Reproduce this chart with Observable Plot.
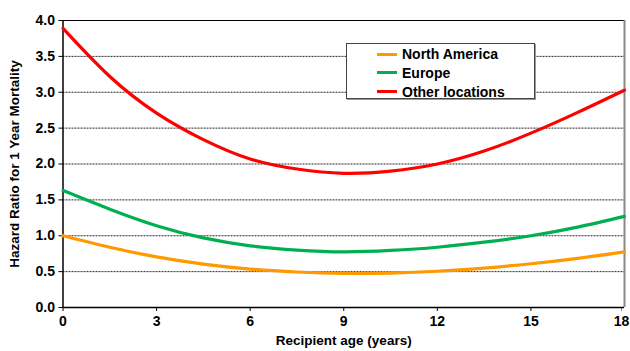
<!DOCTYPE html>
<html>
<head>
<meta charset="utf-8">
<script src="https://cdn.jsdelivr.net/npm/d3@7"></script>
<script src="https://cdn.jsdelivr.net/npm/@observablehq/plot@0.6"></script>
<style>
  html, body { margin: 0; padding: 0; background: #fff; }
  #wrap { position: relative; width: 630px; height: 351px; overflow: hidden; font-family: "Liberation Sans", Arial, sans-serif; }
  #legend { position: absolute; left: 346px; top: 43px; width: 187px; height: 54px; border: 1px solid #444; box-shadow: 1px 1px 0 #999; background: #fff; }
  .item { position: absolute; left: 30px; height: 18px; display: flex; align-items: center; font-weight: bold; font-size: 14px; color: #000; }
  .sw { width: 20px; height: 3px; margin-right: 5px; }
</style>
</head>
<body>
<div id="wrap"></div>
<script>
const ages = [0, 1.5, 3, 4.5, 6, 7.5, 9, 10.5, 12, 13.5, 15, 16.5, 18];
const northAmerica = [1.0, 0.84, 0.705, 0.605, 0.535, 0.495, 0.475, 0.48, 0.505, 0.55, 0.61, 0.685, 0.775];
const europe = [1.63, 1.37, 1.14, 0.97, 0.86, 0.80, 0.775, 0.795, 0.84, 0.91, 1.0, 1.12, 1.27];
const otherLocations = [3.89, 3.22, 2.71, 2.34, 2.07, 1.93, 1.87, 1.90, 2.0, 2.18, 2.43, 2.72, 3.03];
const seriesNames = ["North America", "Europe", "Other locations"];
const seriesColors = ["#FF9900", "#00B050", "#FF0000"];
const xTicks = [0, 3, 6, 9, 12, 15];
const xLastTick = [18];
const yTicks = [0, 0.5, 1, 1.5, 2, 2.5, 3, 3.5, 4];
const gridTicks = [0.5, 1, 1.5, 2, 2.5, 3, 3.5];
const xTitle = "Recipient age (years)";
const yTitle = "Hazard Ratio for 1 Year Mortality";

const seriesValues = [northAmerica, europe, otherLocations];
const rows = seriesNames.flatMap((name, i) => ages.map((a, j) => ({series: name, age: a, value: seriesValues[i][j]})));

const font = "'Liberation Sans', Arial, sans-serif";

const chart = Plot.plot({
  width: 630,
  height: 351,
  marginLeft: 62.5,
  marginRight: 6,
  marginTop: 20,
  marginBottom: 44,
  style: {fontFamily: font, fontWeight: "bold", fontSize: "14px", color: "#000", background: "#fff"},
  x: {domain: [0, 18]},
  y: {domain: [0, 4]},
  color: {domain: seriesNames, range: seriesColors},
  marks: [
    Plot.gridY(gridTicks, {stroke: "#111", strokeOpacity: 0.9, strokeDasharray: "2,1"}),
    Plot.ruleY([4], {stroke: "#000", strokeWidth: 1.2}),
    Plot.ruleX([18], {stroke: "#888", strokeWidth: 2, y1: 0, y2: 4}),
    Plot.axisX({ticks: xTicks, tickSize: 4, tickPadding: 5, tickFormat: d => String(d), fontSize: 14, fontWeight: "bold", label: null}),
    Plot.axisX({ticks: xLastTick, tickSize: 4, tickPadding: 5, tickFormat: d => String(d), fontSize: 14, fontWeight: "bold", label: null, dx: -3, stroke: "#888"}),
    Plot.axisY({ticks: yTicks, tickSize: 4, tickPadding: 4, tickFormat: d => d.toFixed(1), fontSize: 14, fontWeight: "bold", label: null}),
    Plot.ruleY([0], {stroke: "#000", strokeWidth: 1.5}),
    Plot.ruleX([0], {stroke: "#000", strokeWidth: 1.5}),
    Plot.line(rows, {x: "age", y: "value", z: "series", stroke: "series", strokeWidth: 3.2, curve: "natural"}),
    Plot.text([xTitle], {frameAnchor: "bottom", dy: 37, fontSize: 13.5, fontWeight: "bold", fill: "#000"}),
    Plot.text([yTitle], {frameAnchor: "left", rotate: -90, dx: -48, textAnchor: "middle", fontSize: 13.5, fontWeight: "bold", fill: "#000"})
  ]
});
const wrap = document.getElementById("wrap");
wrap.appendChild(chart);

const legend = document.createElement("div");
legend.id = "legend";
seriesNames.forEach((name, i) => {
  const it = document.createElement("div");
  it.className = "item";
  it.style.top = (1 + i * 18.8) + "px";
  const sw = document.createElement("span");
  sw.className = "sw";
  sw.style.background = seriesColors[i];
  const t = document.createElement("span");
  t.textContent = name;
  it.appendChild(sw);
  it.appendChild(t);
  legend.appendChild(it);
});
wrap.appendChild(legend);
</script>
</body>
</html>
